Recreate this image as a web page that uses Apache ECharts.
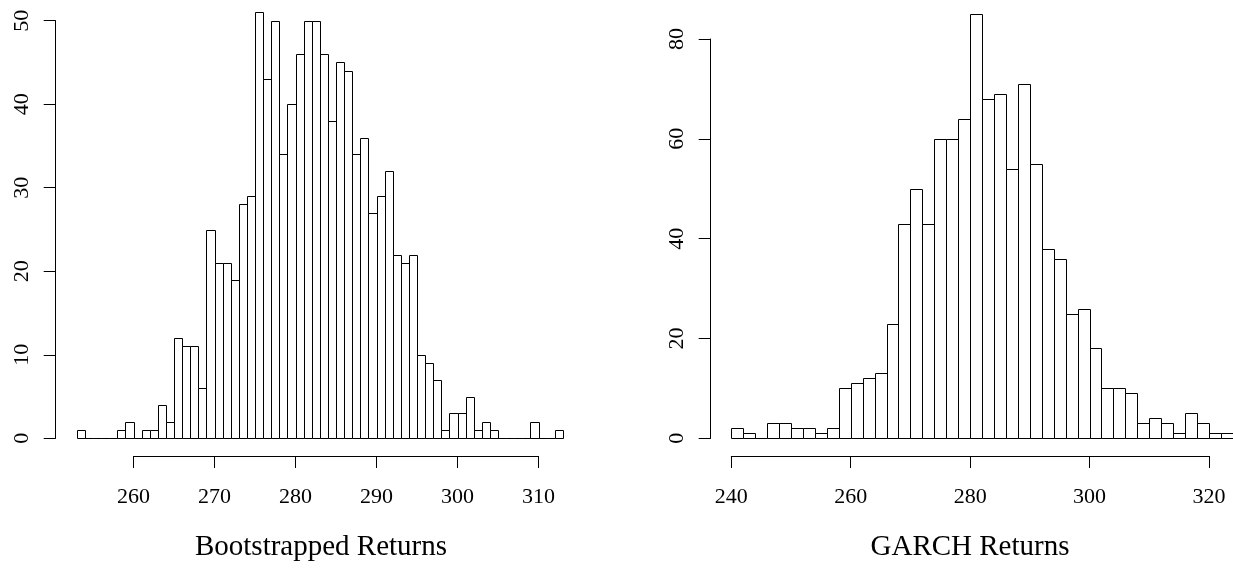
<!DOCTYPE html>
<html><head><meta charset="utf-8">
<script src="https://cdn.jsdelivr.net/npm/echarts@6/dist/echarts.min.js"></script>
<style>html,body{margin:0;padding:0;background:#fff}#c{width:1233px;height:571px}</style>
</head><body><div id="c"></div>
<script>
// ---- data ----
const leftTitle = 'Bootstrapped Returns';
const leftStart = 253;
const leftBinWidth = 1;
const leftCounts = [1,0,0,0,0,1,2,0,1,1,4,2,12,11,11,6,25,21,21,19,28,29,51,43,50,34,40,46,50,50,46,38,45,44,34,36,27,29,32,22,21,22,10,9,7,1,3,3,5,1,2,1,0,0,0,0,2,0,0,1];
const leftXTicks = [260,270,280,290,300,310];
const leftYTicks = [0,10,20,30,40,50];

const rightTitle = 'GARCH Returns';
const rightStart = 240;
const rightBinWidth = 2;
const rightCounts = [2,1,0,3,3,2,2,1,2,10,11,12,13,23,43,50,43,60,60,64,85,68,69,54,71,55,38,36,25,26,18,10,10,9,3,4,3,1,5,3,1,1];
const rightXTicks = [240,260,280,300,320];
const rightYTicks = [0,20,40,60,80];

// ---- helpers ----
function binsOf(start, w, counts) {
  return counts.map((c, i) => [start + i * w, start + (i + 1) * w, c]);
}
function renderBar(params, api) {
  const x0 = api.value(0), x1 = api.value(1), c = api.value(2);
  const p0 = api.coord([x0, c]);
  const p1 = api.coord([x1, 0]);
  const xa = Math.round(p0[0]) + 0.5, xb = Math.round(p1[0]) + 0.5;
  const ya = Math.round(p0[1]) + 0.5, yb = Math.round(p1[1]) + 0.5;
  return {
    type: 'rect',
    shape: { x: xa, y: ya, width: xb - xa, height: yb - ya },
    style: { fill: '#fff', stroke: '#000', lineWidth: 1 }
  };
}
const FONT = 'Liberation Serif';
const tickFont = 22;
const lineStyle = { color: '#000', width: 1 };

function visibleX(gridIndex, ticks) {
  return {
    type: 'value', gridIndex,
    min: ticks[0], max: ticks[ticks.length - 1], interval: ticks[1] - ticks[0],
    position: 'bottom',
    axisLine: { show: true, lineStyle },
    axisTick: { show: true, inside: false, length: 12, lineStyle },
    splitLine: { show: false },
    axisLabel: { color: '#000', fontFamily: FONT, fontSize: tickFont, margin: 30 }
  };
}
function visibleY(gridIndex, ticks, offset) {
  return {
    type: 'value', gridIndex,
    min: ticks[0], max: ticks[ticks.length - 1], interval: ticks[1] - ticks[0],
    position: 'left', offset,
    axisLine: { show: true, lineStyle },
    axisTick: { show: true, inside: false, length: 12, lineStyle },
    splitLine: { show: false },
    axisLabel: { color: '#000', fontFamily: FONT, fontSize: tickFont, rotate: 90, margin: 22 }
  };
}
function hiddenX(gridIndex, min, max) {
  return { type: 'value', gridIndex, min, max, show: false, splitLine: { show: false } };
}
function hiddenY(gridIndex) {
  return { type: 'value', gridIndex, min: 0, max: 1, show: false, splitLine: { show: false } };
}

const chart = echarts.init(document.getElementById('c'), null, { renderer: 'canvas' });
chart.setOption({
  animation: false,
  backgroundColor: '#fff',
  grid: [
    { left: 76.8, width: 486, top: 20.7, height: 417.6 },   // left data
    { left: 133.5, width: 405, top: 455, height: 1 },       // left x axis
    { left: 731.3, width: 501.5, top: 39, height: 399.3 },  // right data
    { left: 731.3, width: 477.7, top: 455, height: 1 }      // right x axis
  ],
  xAxis: [
    hiddenX(0, leftStart, leftStart + leftCounts.length * leftBinWidth),
    visibleX(1, leftXTicks),
    hiddenX(2, rightStart, rightStart + rightCounts.length * rightBinWidth),
    visibleX(3, rightXTicks)
  ],
  yAxis: [
    visibleY(0, leftYTicks, 21.1),
    hiddenY(1),
    visibleY(2, rightYTicks, 20.6),
    hiddenY(3)
  ],
  series: [
    { type: 'custom', xAxisIndex: 0, yAxisIndex: 0, clip: false, renderItem: renderBar,
      data: binsOf(leftStart, leftBinWidth, leftCounts) },
    { type: 'custom', xAxisIndex: 2, yAxisIndex: 2, clip: false, renderItem: renderBar,
      data: binsOf(rightStart, rightBinWidth, rightCounts) }
  ],
  graphic: [
    { type: 'text', x: 321, y: 547, style: { text: leftTitle, fontFamily: FONT, fontSize: 29, fill: '#000', align: 'center', verticalAlign: 'middle' } },
    { type: 'text', x: 970, y: 547, style: { text: rightTitle, fontFamily: FONT, fontSize: 29, fill: '#000', align: 'center', verticalAlign: 'middle' } }
  ]
});
</script></body></html>
